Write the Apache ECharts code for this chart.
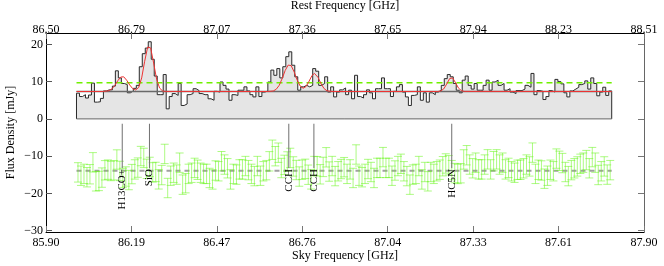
<!DOCTYPE html>
<html><head><meta charset="utf-8">
<script src="https://cdn.jsdelivr.net/npm/echarts@6/dist/echarts.min.js"></script>
<style>html,body{margin:0;padding:0;background:#fff}#c{width:664px;height:266px}</style>
</head><body><div id="c"></div>
<script>
// ---------------- data ----------------
const skyTickLabels  = ['85.90','86.19','86.47','86.76','87.04','87.33','87.61','87.90'];
const restTickLabels = ['86.50','86.79','87.07','87.36','87.65','87.94','88.23','88.51'];
const yTickValues = [-30,-20,-10,0,10,20];
const skyRange  = [85.90, 87.90];
const restRange = [86.50, 88.51];
const fluxRange = [-30.35, 23.05];

const channelStartGHz = 86.002;
const channelWidthGHz = 0.01;
const flux = [
 6.9,6.0,6.5,5.6,6.4,9.6,4.5,4.6,5.5,7.5,
 7.8,7.8,8.8,12.9,11.0,9.5,9.2,7.0,7.5,8.2,
 9.0,14.0,17.5,19.0,20.7,16.0,11.5,6.5,6.5,11.9,
 2.7,6.0,6.8,6.3,9.5,3.6,4.0,6.5,6.8,8.1,
 7.6,6.8,6.5,6.5,5.4,5.0,7.4,7.2,9.9,9.0,
 8.0,5.0,6.5,6.3,7.7,7.7,8.6,7.5,6.5,5.9,
 8.6,6.0,7.2,7.5,9.9,13.1,11.7,13.5,11.0,14.0,
 16.7,18.0,14.4,11.3,7.7,8.6,9.0,8.6,9.0,13.5,
 12.8,9.0,9.5,11.3,7.2,8.6,5.9,7.2,7.8,8.3,
 6.5,7.7,5.4,11.7,6.0,5.6,6.5,7.8,7.0,5.4,
 8.1,8.1,11.0,8.1,8.1,6.0,7.4,8.6,9.2,7.2,
 5.9,3.6,6.3,6.5,8.6,5.0,7.0,4.5,7.0,6.5,
 7.2,7.7,9.0,10.8,11.9,11.3,9.5,7.7,7.0,10.4,
 11.5,9.0,8.0,9.5,7.7,7.7,9.0,10.4,7.7,9.9,
 10.4,9.0,9.5,7.7,8.1,7.2,6.8,7.6,7.6,8.0,
 9.0,8.5,12.2,6.5,7.6,7.4,5.2,6.0,7.6,7.2,
 10.6,10.0,9.4,7.0,5.9,7.5,8.0,8.5,9.2,9.5,
 10.2,8.0,11.0,9.5,6.2,7.2,8.5,6.3,7.5
];
const residuals = [
 -0.45,-1.35,-0.85,-1.75,-0.95,2.25,-2.85,-2.75,-1.85,0.11,
 0.29,-0.08,0.12,3.0,-0.06,-1.95,-1.56,-2.51,-0.91,0.34,
 0.83,3.93,3.43,0.5,1.01,-0.45,-0.33,-2.32,-1.17,4.5,
 -4.65,-1.35,-0.55,-1.05,2.15,-3.75,-3.35,-0.85,-0.55,0.75,
 0.25,-0.55,-0.85,-0.85,-1.95,-2.35,0.05,-0.15,2.55,1.65,
 0.65,-2.35,-0.85,-1.05,0.35,0.35,1.25,0.15,-0.85,-1.45,
 1.25,-1.35,-0.15,0.15,2.52,5.62,3.89,4.83,0.72,1.56,
 2.48,3.43,1.14,0.18,-1.57,0.26,0.5,-1.08,-2.33,1.25,
 1.19,-0.97,1.01,3.6,-0.23,1.25,-1.45,-0.15,0.45,0.95,
 -0.85,0.35,-1.95,4.35,-1.35,-1.75,-0.85,0.45,-0.35,-1.95,
 0.75,0.75,3.65,0.75,0.75,-1.35,0.05,1.25,1.85,-0.15,
 -1.45,-3.75,-1.05,-0.85,1.25,-2.35,-0.35,-2.85,-0.35,-0.85,
 -0.15,0.27,1.2,1.94,1.46,0.15,-0.64,-0.88,-0.68,3.02,
 4.15,1.65,0.65,2.15,0.35,0.35,1.65,3.05,0.35,2.55,
 3.05,1.65,2.15,0.35,0.75,-0.15,-0.55,0.25,0.25,0.65,
 1.65,1.15,4.85,-0.85,0.25,0.05,-2.15,-1.35,0.25,-0.15,
 3.25,2.65,2.05,-0.35,-1.45,0.15,0.65,1.15,1.85,2.15,
 2.85,0.65,3.65,2.15,-1.15,-0.15,1.15,-1.05,0.15
];
const residualOffset = -13.9;
const residualError = 2.6;

const fitFreq = [86.002,86.09,86.11,86.12,86.13,86.14,86.15,86.1555,86.16,86.17,86.18,86.19,86.20,86.21,86.22,86.23,86.24,86.2445,86.25,86.26,86.27,86.28,86.29,86.30,
  86.64,86.66,86.67,86.68,86.69,86.70,86.71,86.714,86.72,86.73,86.74,86.75,86.76,86.77,86.78,86.79,86.798,86.81,86.82,86.83,86.84,86.86,
  87.21,87.22,87.23,87.24,87.25,87.256,87.26,87.27,87.28,87.29,87.30,87.792];
const fitFlux = [7.35,7.36,7.55,8.02,8.97,10.24,11.23,11.40,11.29,10.36,9.09,8.12,7.78,8.43,11.0,15.46,19.3,19.8,19.05,14.98,10.64,8.27,7.49,7.37,
  7.35,7.49,7.95,9.02,10.85,13.01,14.45,14.6,14.28,12.6,10.44,8.83,8.22,8.71,10.13,11.69,12.2,11.12,9.42,8.13,7.53,7.35,
  7.36,7.49,8.03,9.33,10.82,11.15,11.0,9.66,8.22,7.55,7.38,7.35];
const continuumLevel = 7.35;
const thresholdLevel = 9.73;

const lineNames = ['H13CO+','SiO','CCH','CCH','HC5N'];
const lineFreq  = [86.155, 86.246, 86.712, 86.796, 87.257];
const markerTop = -1.3, markerBottom = -13.2;

// ---------------- build ----------------
const FONT = 'Liberation Serif';
const nT = skyTickLabels.length;
const skyTicks  = skyTickLabels.map((_, k) => skyRange[0] + k * (skyRange[1] - skyRange[0]) / (nT - 1));
const restTicks = restTickLabels.map((_, k) => restRange[0] + k * (restRange[1] - restRange[0]) / (nT - 1));
function nearestLabel(ticks, labels, v) {
  let b = 0; for (let k = 1; k < ticks.length; k++) if (Math.abs(ticks[k] - v) < Math.abs(ticks[b] - v)) b = k;
  return labels[b];
}
const edges = flux.map((_, i) => channelStartGHz + i * channelWidthGHz);
const rightEdge = channelStartGHz + flux.length * channelWidthGHz;
const centers = flux.map((_, i) => channelStartGHz + (i + 0.5) * channelWidthGHz);

const specData = [[edges[0], 0]].concat(flux.map((v, i) => [edges[i], v]),
  [[rightEdge, flux[flux.length - 1]], [rightEdge, 0]]);

const axisTxt = { fontFamily: FONT, fontSize: 12, color: '#000' };
const chart = echarts.init(document.getElementById('c'), null, { renderer: 'canvas' });
chart.setOption({
  animation: false,
  backgroundColor: '#fff',
  grid: { left: 46, right: 20, top: 33, bottom: 34, outerBoundsMode: 'none' },
  xAxis: [
    { type: 'value', position: 'bottom', min: skyRange[0], max: skyRange[1],
      name: 'Sky Frequency [GHz]', nameLocation: 'middle', nameGap: 18, nameTextStyle: axisTxt, nameMoveOverlap: false,
      axisLine: { onZero: false, lineStyle: { color: '#000', width: 1 } },
      axisTick: { inside: true, length: 6, customValues: skyTicks, lineStyle: { color: '#777' } },
      axisLabel: Object.assign({ margin: 5, customValues: skyTicks, formatter: v => nearestLabel(skyTicks, skyTickLabels, v) }, axisTxt),
      splitLine: { show: false } },
    { type: 'value', position: 'top', min: restRange[0], max: restRange[1],
      name: 'Rest Frequency [GHz]', nameLocation: 'middle', nameGap: 21, nameTextStyle: axisTxt, nameMoveOverlap: false,
      axisLine: { onZero: false, lineStyle: { color: '#000', width: 1 } },
      axisTick: { inside: true, length: 6, customValues: restTicks, lineStyle: { color: '#777' } },
      axisLabel: Object.assign({ margin: -3, customValues: restTicks, formatter: v => nearestLabel(restTicks, restTickLabels, v) }, axisTxt),
      splitLine: { show: false } }
  ],
  yAxis: [
    { type: 'value', position: 'left', min: fluxRange[0], max: fluxRange[1],
      name: 'Flux Density [mJy]', nameLocation: 'middle', nameGap: 29, nameTextStyle: axisTxt, nameMoveOverlap: false,
      axisLine: { show: true, onZero: false, lineStyle: { color: '#000', width: 1 } },
      axisTick: { show: true, inside: true, length: 6, customValues: yTickValues, lineStyle: { color: '#555' } },
      axisLabel: Object.assign({ margin: 3, customValues: yTickValues, formatter: v => String(Math.round(v)).replace('-', '\u2212') }, axisTxt),
      splitLine: { show: false } },
    { type: 'value', position: 'right', min: fluxRange[0], max: fluxRange[1],
      axisLine: { show: true, onZero: false, lineStyle: { color: '#666', width: 1 } },
      axisTick: { show: true, inside: true, length: 6, customValues: yTickValues, lineStyle: { color: '#777' } },
      axisLabel: { show: false }, splitLine: { show: false } }
  ],
  series: [
    { type: 'line', name: 'spectrum', data: specData, step: 'end', symbol: 'none', z: 2,
      lineStyle: { color: '#2a2a2a', width: 1 }, areaStyle: { color: '#e5e5e5', opacity: 1 } },
    { type: 'line', name: 'zero', data: [[edges[0], 0], [rightEdge, 0]], symbol: 'none', z: 3,
      lineStyle: { color: '#666', width: 1 } },
    { type: 'line', name: 'continuum', data: [[edges[0], continuumLevel], [rightEdge, continuumLevel]], symbol: 'none', z: 3,
      lineStyle: { color: '#6a6a6a', width: 1.5 } },
    { type: 'line', name: 'threshold', data: [[edges[0], thresholdLevel], [rightEdge, thresholdLevel]], symbol: 'none', z: 4,
      lineStyle: { color: '#70f000', width: 1.5, type: [6, 4] } },
    { type: 'line', name: 'fit', data: fitFreq.map((f, i) => [f, fitFlux[i]]), symbol: 'none', z: 5,
      lineStyle: { color: '#ee3333', width: 1 } },
    { type: 'line', name: 'resid0', data: [[edges[0], residualOffset], [rightEdge, residualOffset]], symbol: 'none', z: 3,
      lineStyle: { color: '#a0a0a0', width: 2, type: [5, 4] } },
    { type: 'custom', name: 'residuals', z: 4,
      data: residuals.map((r, i) => [centers[i], r + residualOffset, residualError]),
      renderItem: (params, api) => {
        const x = api.value(0), c = api.value(1), e = api.value(2);
        const t = api.coord([x, c + e]), b = api.coord([x, c - e]);
        const hw = 4, st = { stroke: 'rgba(105,245,30,0.55)', lineWidth: 1 };
        return { type: 'group', children: [
          { type: 'line', shape: { x1: t[0], y1: t[1], x2: b[0], y2: b[1] }, style: st },
          { type: 'line', shape: { x1: t[0] - hw, y1: t[1], x2: t[0] + hw, y2: t[1] }, style: st },
          { type: 'line', shape: { x1: b[0] - hw, y1: b[1], x2: b[0] + hw, y2: b[1] }, style: st }
        ]};
      } },
    { type: 'custom', name: 'markers', z: 6,
      data: lineFreq.map((f, i) => [f, i]),
      renderItem: (params, api) => {
        const f = api.value(0), idx = api.value(1);
        const t = api.coord([f, markerTop]), b = api.coord([f, markerBottom]);
        return { type: 'group', children: [
          { type: 'line', shape: { x1: t[0], y1: t[1], x2: b[0], y2: b[1] }, style: { stroke: '#707070', lineWidth: 1 } },
          { type: 'text', x: b[0], y: b[1] + 1, rotation: Math.PI / 2,
            style: { text: lineNames[idx], fill: '#000', font: '11px "Liberation Serif"', align: 'right', verticalAlign: 'middle' } }
        ]};
      } }
  ]
});
</script></body></html>
